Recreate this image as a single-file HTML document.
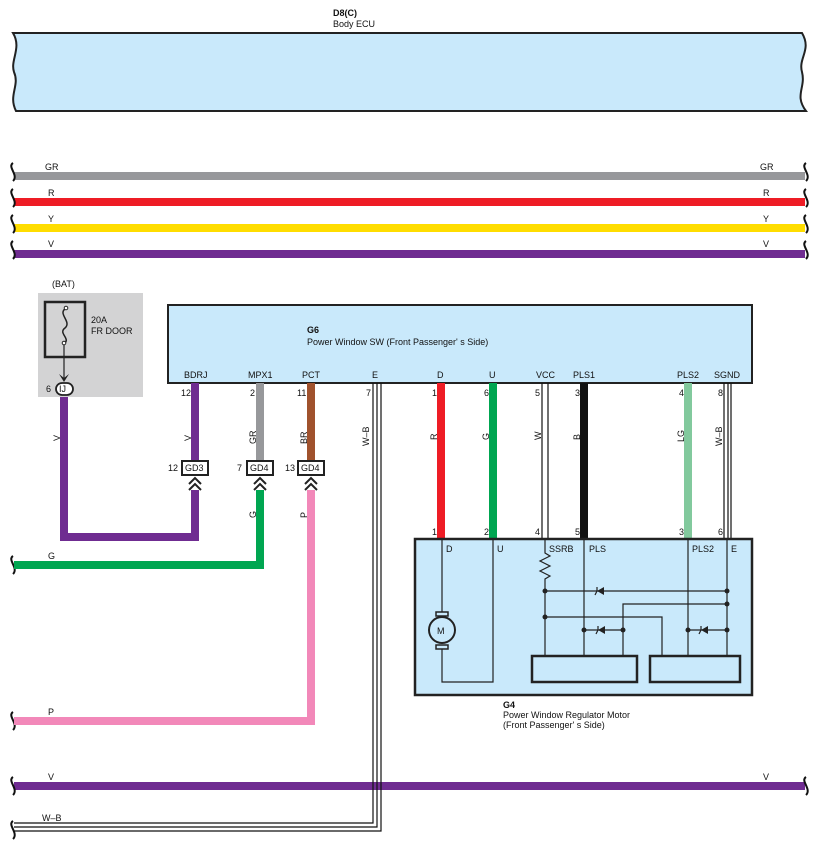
<!DOCTYPE html>
<html><head><meta charset="utf-8"><style>
html,body{margin:0;padding:0;background:#fff}
svg{display:block}
text{font-family:"Liberation Sans",sans-serif;font-size:9px;fill:#111}
.b{font-weight:bold}
</style></head><body>
<svg width="818" height="847" viewBox="0 0 818 847" xmlns="http://www.w3.org/2000/svg">
<defs>
<g id="sq"><path d="M0,-9 C-6,-5 6,3 0,9" fill="none" stroke="#111" stroke-width="2"/></g>
</defs>
<!-- ECU -->
<path d="M13,33 L802,33 C812,50 798,58 802,72 C806,88 794,95 806,111 L16,111 C8,95 20,86 14,72 C10,60 22,48 13,33 Z" fill="#c9e9fb" stroke="#222" stroke-width="2"/>
<text x="333" y="16" class="b">D8(C)</text>
<text x="333" y="27">Body ECU</text>
<!-- buses -->
<g stroke-width="8">
<line x1="14" y1="176" x2="805" y2="176" stroke="#97989b"/>
<line x1="14" y1="202" x2="805" y2="202" stroke="#ee1c25"/>
<line x1="14" y1="228" x2="805" y2="228" stroke="#ffdd00"/>
<line x1="14" y1="254" x2="805" y2="254" stroke="#6f2c91"/>
<line x1="14" y1="786" x2="805" y2="786" stroke="#6f2c91"/>
</g>
<g>
<use href="#sq" x="13" y="172"/><use href="#sq" x="13" y="198"/><use href="#sq" x="13" y="224"/><use href="#sq" x="13" y="250"/>
<use href="#sq" x="806" y="172"/><use href="#sq" x="806" y="198"/><use href="#sq" x="806" y="224"/><use href="#sq" x="806" y="250"/>
<use href="#sq" x="13" y="565"/><use href="#sq" x="13" y="721"/><use href="#sq" x="13" y="786"/><use href="#sq" x="806" y="786"/><use href="#sq" x="13" y="830"/>
</g>
<text x="45" y="170">GR</text><text x="48" y="196">R</text><text x="48" y="222">Y</text><text x="48" y="247">V</text>
<text x="760" y="170">GR</text><text x="763" y="196">R</text><text x="763" y="222">Y</text><text x="763" y="247">V</text>
<text x="48" y="780">V</text><text x="763" y="780">V</text>
<text x="42" y="821">W–B</text>
<text x="48" y="559">G</text><text x="48" y="715">P</text>
<!-- BAT box -->
<rect x="38" y="293" width="105" height="104" fill="#d3d3d4"/>
<rect x="45" y="302" width="40" height="55" fill="none" stroke="#222" stroke-width="2.5"/>
<path d="M65,309 C58,314 72,322 65,328 C58,333 70,338 65,343" fill="none" stroke="#222" stroke-width="1.5"/>
<circle cx="66" cy="308" r="1.8" fill="#fff" stroke="#222"/><circle cx="64" cy="343" r="1.8" fill="#fff" stroke="#222"/>
<line x1="64" y1="345" x2="64" y2="378" stroke="#222" stroke-width="1.2"/>
<path d="M59,374 L64,382 L69,374 L64,378 Z" fill="#222"/>
<text x="52" y="287">(BAT)</text>
<text x="91" y="323">20A</text><text x="91" y="334">FR DOOR</text>
<rect x="56" y="383" width="17" height="12" rx="6" fill="#fff" stroke="#222" stroke-width="1.8"/>
<text x="59" y="392">IJ</text><text x="46" y="392">6</text>
<!-- G6 -->
<rect x="168" y="305" width="584" height="78" fill="#c9e9fb" stroke="#222" stroke-width="2"/>
<text x="307" y="333" class="b">G6</text>
<text x="307" y="345">Power Window SW (Front Passenger' s Side)</text>
<text x="184" y="378">BDRJ</text><text x="248" y="378">MPX1</text><text x="302" y="378">PCT</text><text x="372" y="378">E</text>
<text x="437" y="378">D</text><text x="489" y="378">U</text><text x="536" y="378">VCC</text><text x="573" y="378">PLS1</text>
<text x="677" y="378">PLS2</text><text x="714" y="378">SGND</text>
<!-- wires left -->
<g fill="none" stroke-width="8" stroke-linejoin="miter">
<path d="M64,397 L64,537 L195,537 L195,490" stroke="#6f2c91"/>
<line x1="195" y1="383" x2="195" y2="461" stroke="#6f2c91"/>
<line x1="260" y1="383" x2="260" y2="461" stroke="#97989b"/>
<path d="M260,490 L260,565 L14,565" stroke="#00a651"/>
<line x1="311" y1="383" x2="311" y2="461" stroke="#a0522d"/>
<path d="M311,490 L311,721 L14,721" stroke="#f288b9"/>
<line x1="441" y1="383" x2="441" y2="538" stroke="#ee1c25"/>
<line x1="493" y1="383" x2="493" y2="538" stroke="#00a651"/>
<line x1="584" y1="383" x2="584" y2="538" stroke="#111"/>
<line x1="688" y1="383" x2="688" y2="538" stroke="#82c99d"/>
</g>
<!-- W-B / W double wires -->
<g fill="none" stroke="#111" stroke-width="1.2">
<path d="M373,383 L373,823 L14,823"/><path d="M377,383 L377,827 L14,827"/><path d="M381,383 L381,831 L14,831"/>
<line x1="542" y1="383" x2="542" y2="538"/><line x1="548" y1="383" x2="548" y2="538"/>
<line x1="724" y1="383" x2="724" y2="538"/><line x1="728" y1="383" x2="728" y2="538"/><line x1="731" y1="383" x2="731" y2="538"/>
</g>
<!-- connectors -->
<g>
<rect x="182" y="461" width="26" height="14" fill="#fff" stroke="#222" stroke-width="2"/><text x="185" y="471">GD3</text><text x="168" y="471">12</text>
<rect x="247" y="461" width="26" height="14" fill="#fff" stroke="#222" stroke-width="2"/><text x="250" y="471">GD4</text><text x="237" y="471">7</text>
<rect x="298" y="461" width="26" height="14" fill="#fff" stroke="#222" stroke-width="2"/><text x="301" y="471">GD4</text><text x="285" y="471">13</text>
<g fill="none" stroke="#222" stroke-width="2">
<path d="M189,484 L195,478 L201,484 M189,490 L195,484 L201,490"/>
<path d="M254,484 L260,478 L266,484 M254,490 L260,484 L266,490"/>
<path d="M305,484 L311,478 L317,484 M305,490 L311,484 L317,490"/>
</g>
</g>
<!-- pin numbers -->
<text x="181" y="396">12</text><text x="250" y="396">2</text><text x="297" y="396">11</text><text x="366" y="396">7</text>
<text x="432" y="396">1</text><text x="484" y="396">6</text><text x="535" y="396">5</text><text x="575" y="396">3</text><text x="679" y="396">4</text><text x="718" y="396">8</text>
<text x="432" y="535">1</text><text x="484" y="535">2</text><text x="535" y="535">4</text><text x="575" y="535">5</text><text x="679" y="535">3</text><text x="718" y="535">6</text>
<!-- vertical wire labels -->
<g>
<text transform="translate(60,441) rotate(-90)">V</text>
<text transform="translate(191,441) rotate(-90)">V</text>
<text transform="translate(256,444) rotate(-90)">GR</text>
<text transform="translate(307,444) rotate(-90)">BR</text>
<text transform="translate(369,446) rotate(-90)">W–B</text>
<text transform="translate(437,440) rotate(-90)">R</text>
<text transform="translate(489,440) rotate(-90)">G</text>
<text transform="translate(541,440) rotate(-90)">W</text>
<text transform="translate(580,440) rotate(-90)">B</text>
<text transform="translate(684,442) rotate(-90)">LG</text>
<text transform="translate(722,446) rotate(-90)">W–B</text>
<text transform="translate(256,518) rotate(-90)">G</text>
<text transform="translate(307,518) rotate(-90)">P</text>
</g>
<!-- G4 -->
<rect x="415" y="539" width="337" height="156" fill="#c9e9fb" stroke="#222" stroke-width="2.5"/>
<text x="446" y="552">D</text><text x="497" y="552">U</text><text x="549" y="552">SSRB</text><text x="589" y="552">PLS</text><text x="692" y="552">PLS2</text><text x="731" y="552">E</text>
<g fill="none" stroke="#222" stroke-width="1.2">
<path d="M442,539 L442,614 M442,647 L442,682 L493,682 L493,539"/>
<path d="M545,539 L545,553 L550,556 L540,561 L550,566 L540,571 L550,576 L545,579 L545,656"/>
<line x1="545" y1="591" x2="727" y2="591"/>
<path d="M623,656 L623,604 L727,604"/>
<path d="M545,617 L662,617 L662,656"/>
<line x1="584" y1="539" x2="584" y2="656"/>
<line x1="584" y1="630" x2="623" y2="630"/>
<line x1="688" y1="539" x2="688" y2="656"/>
<line x1="688" y1="630" x2="727" y2="630"/>
<line x1="727" y1="539" x2="727" y2="656"/>
</g>
<g fill="#222">
<circle cx="545" cy="591" r="2.5"/><circle cx="545" cy="617" r="2.5"/><circle cx="727" cy="591" r="2.5"/><circle cx="727" cy="604" r="2.5"/>
<circle cx="584" cy="630" r="2.5"/><circle cx="623" cy="630" r="2.5"/><circle cx="688" cy="630" r="2.5"/><circle cx="727" cy="630" r="2.5"/>
<path d="M597,591 L604,587 L604,595 Z"/><path d="M598,630 L605,626 L605,634 Z"/><path d="M701,630 L708,626 L708,634 Z"/>
</g>
<g stroke="#222" stroke-width="1.2" fill="none">
<path d="M595,595 L597,591 L597,587"/><path d="M596,634 L598,630 L598,626"/><path d="M699,634 L701,630 L701,626"/>
</g>
<rect x="436" y="612" width="12" height="4" fill="#c9e9fb" stroke="#222" stroke-width="1.5"/>
<rect x="436" y="645" width="12" height="4" fill="#c9e9fb" stroke="#222" stroke-width="1.5"/>
<circle cx="442" cy="630" r="13" fill="#c9e9fb" stroke="#222" stroke-width="2"/>
<text x="437" y="634">M</text>
<rect x="532" y="656" width="105" height="26" fill="#c9e9fb" stroke="#222" stroke-width="2.5"/>
<rect x="650" y="656" width="90" height="26" fill="#c9e9fb" stroke="#222" stroke-width="2.5"/>
<text x="503" y="708" class="b">G4</text>
<text x="503" y="718">Power Window Regulator Motor</text>
<text x="503" y="728">(Front Passenger' s Side)</text>
</svg>
</body></html>
